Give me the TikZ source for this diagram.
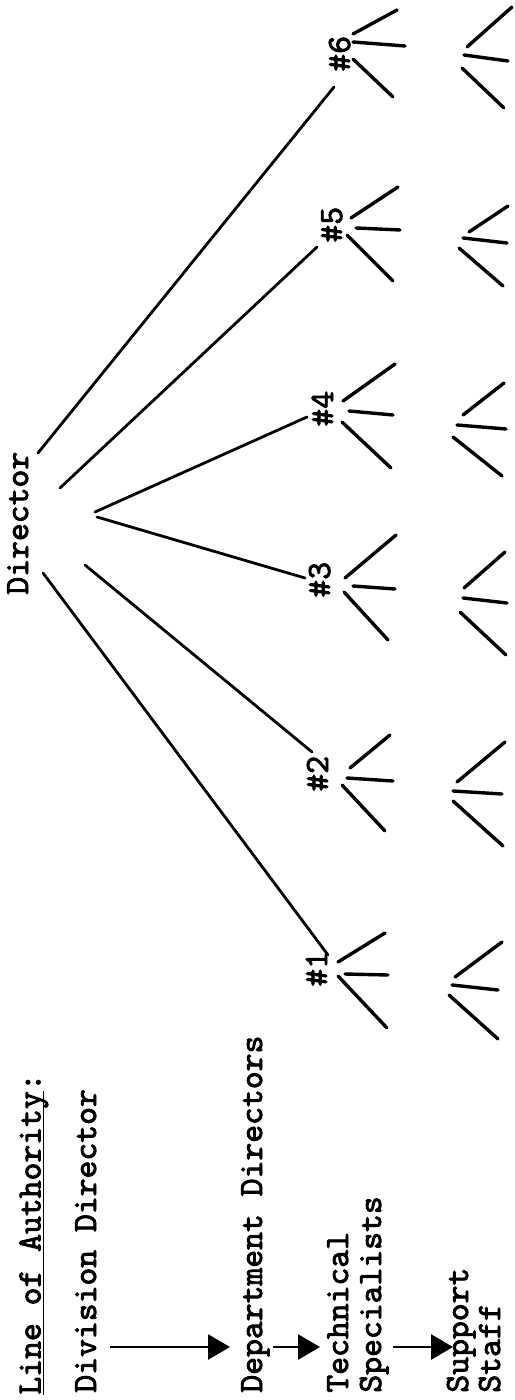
\documentclass[tikz,border=0pt]{standalone}
\usepackage{fontspec}
\newfontfamily\boldtt{lmmono10-regular.otf}[FakeBold=2.5]
\usetikzlibrary{arrows.meta}
\begin{document}
\begin{tikzpicture}[x=0.5pt,y=-0.5pt,
  lbl/.style={rotate=90, anchor=base west, inner sep=0pt, font=\fontsize{17}{18}\selectfont\boldtt},
  conn/.style={line width=1.4pt, line cap=round},
  fan/.style={line width=1.7pt, line cap=round},
  arr/.style={line width=1.4pt, -{Triangle[length=11pt,width=12.5pt]}}]
\useasboundingbox (0,0) rectangle (514,1400);
% legend column
\node[lbl] (loa) at (40.5,1395) {\underline{\smash{Line of Authority}}:};
\node[lbl] (div) at (96,1393) {Division Director};
\node[lbl] (dept) at (262,1393) {Department Directors};
\node[lbl] (tech) at (348,1393) {Technical};
\node[lbl] (spec) at (381,1393) {Specialists};
\node[lbl] (sup) at (468,1393) {Support};
\node[lbl] (staff) at (500,1393) {Staff};
\coordinate (a1s) at (110,1347); \coordinate (a1e) at (230,1347);
\coordinate (a2s) at (273,1347); \coordinate (a2e) at (320,1347);
\coordinate (a3s) at (393,1347); \coordinate (a3e) at (453,1347);
\draw[arr] (a1s) -- (a1e);
\draw[arr] (a2s) -- (a2e);
\draw[arr] (a3s) -- (a3e);
% director and departments
\node[lbl] (dir) at (28,595) {Director};
\node[lbl] (n1) at (327,987) {\#1};
\node[lbl] (n2) at (328,792) {\#2};
\node[lbl] (n3) at (330,598) {\#3};
\node[lbl] (n4) at (333,427) {\#4};
\node[lbl] (n5) at (342,243) {\#5};
\node[lbl] (n6) at (350,72) {\#6};
\coordinate (d6) at (38,453);  \coordinate (e6) at (334,87);
\coordinate (d5) at (60,488);  \coordinate (e5) at (317,247);
\coordinate (d4) at (95,512);  \coordinate (e4) at (307,417);
\coordinate (d3) at (97,517);  \coordinate (e3) at (305,578);
\coordinate (d2) at (85,565);  \coordinate (e2) at (312,752);
\coordinate (d1) at (43,573);  \coordinate (e1) at (328,955);
\draw[conn] (d1) -- (e1);
\draw[conn] (d2) -- (e2);
\draw[conn] (d3) -- (e3);
\draw[conn] (d4) -- (e4);
\draw[conn] (d5) -- (e5);
\draw[conn] (d6) -- (e6);
% crow's feet
\draw[fan] (338,962)--(385,933) (345,974)--(388,975) (338,976)--(387,1028);
\draw[fan] (455,977)--(502,942) (452,985)--(498,990) (449,995)--(498,1039);
\draw[fan] (350,768)--(390,735) (347,778)--(393,781) (342,785)--(385,831);
\draw[fan] (457,782)--(505,742) (453,791)--(502,794) (453,801)--(503,846);
\draw[fan] (345,578)--(396,535) (353,586)--(395,589) (344,592)--(388,640);
\draw[fan] (464,588)--(505,552) (463,598)--(507,603) (460,612)--(506,655);
\draw[fan] (343,401)--(395,364) (349,411)--(393,415) (342,422)--(391,468);
\draw[fan] (463,415)--(504,383) (457,425)--(506,429) (453,437)--(502,476);
\draw[fan] (351,218)--(398,187) (356,228)--(400,230) (347,235)--(393,281);
\draw[fan] (469,232)--(508,206) (463,238)--(507,243) (459,248)--(503,286);
\draw[fan] (353,34)--(397,10) (353,42)--(405,46) (353,59)--(393,97);
\draw[fan] (467,47)--(512,7) (464,55)--(508,61) (462,68)--(504,108);
\end{tikzpicture}
\end{document}
